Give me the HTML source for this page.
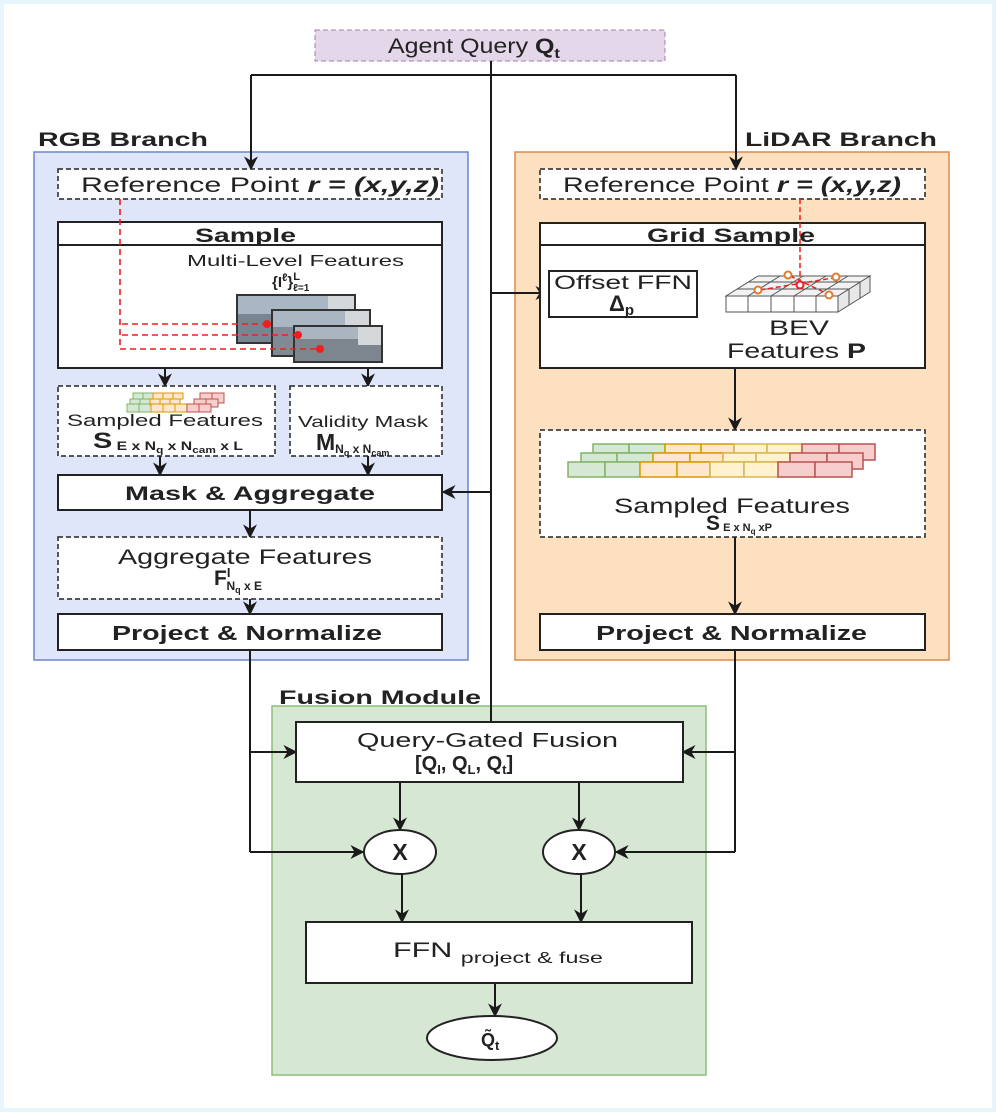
<!DOCTYPE html>
<html><head><meta charset="utf-8"><style>
html,body{margin:0;padding:0;background:#e8f4fb;}
svg{display:block;font-family:"Liberation Sans",Arial,sans-serif;}
</style></head><body>
<svg width="996" height="1112" viewBox="0 0 996 1112" xmlns="http://www.w3.org/2000/svg">
<defs>
<marker id="ar" viewBox="0 0 10 10" refX="9" refY="5" markerWidth="14" markerHeight="14" markerUnits="userSpaceOnUse" orient="auto"><path d="M0,0 L10,5 L0,10 L3,5 z" fill="#1a1a1a"/></marker>
</defs>
<rect x="4" y="4" width="988" height="1104" fill="#ffffff"/>
<rect x="34" y="152" width="434" height="508" fill="#dfe6f9" stroke="#6a85cc" stroke-width="1.5"/>
<rect x="515" y="152" width="434" height="508" fill="#fde0c0" stroke="#db8a4a" stroke-width="1.5"/>
<rect x="272" y="706" width="434" height="369" fill="#d6e8d4" stroke="#8cbf78" stroke-width="1.5"/>
<text x="38" y="146" font-size="19" font-weight="bold" fill="#222" textLength="170" lengthAdjust="spacingAndGlyphs">RGB Branch</text>
<text x="745" y="146" font-size="19" font-weight="bold" fill="#222" textLength="192" lengthAdjust="spacingAndGlyphs">LiDAR Branch</text>
<text x="279" y="704" font-size="19" font-weight="bold" fill="#222" textLength="202" lengthAdjust="spacingAndGlyphs">Fusion Module</text>

<rect x="315" y="30" width="350" height="31" fill="#e3d7e9" stroke="#a07fb0" stroke-dasharray="5,3"/>
<text x="388" y="53" font-size="21" fill="#222" textLength="172" lengthAdjust="spacingAndGlyphs">Agent Query <tspan font-weight="bold">Q</tspan><tspan font-weight="bold" font-size="14" dy="5">t</tspan></text>

<g stroke="#1a1a1a" stroke-width="2" fill="none">
<line x1="491" y1="61" x2="491" y2="722"/>
<polyline points="251,75 736,75"/>
<line x1="251" y1="75" x2="251" y2="169" marker-end="url(#ar)"/>
<line x1="736" y1="75" x2="736" y2="169" marker-end="url(#ar)"/>
<line x1="491" y1="293" x2="548" y2="293" marker-end="url(#ar)"/>
<line x1="491" y1="492" x2="443" y2="492" marker-end="url(#ar)"/>
<line x1="697" y1="293" x2="725" y2="293" marker-end="url(#ar)"/>
<line x1="165" y1="368" x2="165" y2="386" marker-end="url(#ar)"/>
<line x1="368" y1="368" x2="368" y2="386" marker-end="url(#ar)"/>
<line x1="160" y1="456" x2="160" y2="475" marker-end="url(#ar)"/>
<line x1="368" y1="456" x2="368" y2="475" marker-end="url(#ar)"/>
<line x1="250" y1="510" x2="250" y2="537" marker-end="url(#ar)"/>
<line x1="250" y1="599" x2="250" y2="614" marker-end="url(#ar)"/>
<line x1="735" y1="368" x2="735" y2="430" marker-end="url(#ar)"/>
<line x1="735" y1="537" x2="735" y2="614" marker-end="url(#ar)"/>
<polyline points="250,650 250,852"/>
<line x1="250" y1="752" x2="296" y2="752" marker-end="url(#ar)"/>
<line x1="250" y1="852" x2="363" y2="852" marker-end="url(#ar)"/>
<polyline points="735,650 735,852"/>
<line x1="735" y1="752" x2="683" y2="752" marker-end="url(#ar)"/>
<line x1="735" y1="852" x2="616" y2="852" marker-end="url(#ar)"/>
<line x1="400" y1="782" x2="400" y2="830" marker-end="url(#ar)"/>
<line x1="579" y1="782" x2="579" y2="830" marker-end="url(#ar)"/>
<line x1="402" y1="874" x2="402" y2="922" marker-end="url(#ar)"/>
<line x1="581" y1="874" x2="581" y2="922" marker-end="url(#ar)"/>
<line x1="495" y1="983" x2="495" y2="1016" marker-end="url(#ar)"/>
</g>

<!-- RGB -->
<rect x="58" y="169" width="384" height="30" fill="#fff" stroke="#222" stroke-width="1.5" stroke-dasharray="5,3"/>
<text x="81" y="192" font-size="21" fill="#222" textLength="358" lengthAdjust="spacingAndGlyphs">Reference Point <tspan font-weight="bold" font-style="italic">r = (x,y,z)</tspan></text>
<rect x="58" y="222" width="384" height="146" fill="#fff" stroke="#222" stroke-width="2"/>
<line x1="58" y1="245" x2="442" y2="245" stroke="#222" stroke-width="2"/>
<text x="195" y="242" font-size="19" font-weight="bold" fill="#222" textLength="101" lengthAdjust="spacingAndGlyphs">Sample</text>
<text x="187" y="266" font-size="16" fill="#222" textLength="217" lengthAdjust="spacingAndGlyphs">Multi-Level Features</text>
<text x="272" y="287" font-size="15" font-weight="bold" fill="#222">{I<tspan font-size="11" dy="-6">ℓ</tspan><tspan dy="6">}</tspan><tspan font-size="11" dy="-7">L</tspan><tspan font-size="10" dx="-7" dy="11">ℓ=1</tspan></text>
<g>
<rect x="237" y="295" width="118" height="48" fill="#7a8592" stroke="#333" stroke-width="2"/>
<rect x="238" y="296" width="116" height="18" fill="#a9b6c4"/>
<rect x="328" y="296" width="26" height="30" fill="#d5d8da"/>
<rect x="272" y="310" width="98" height="46" fill="#808a94" stroke="#333" stroke-width="2"/>
<rect x="273" y="311" width="96" height="16" fill="#aab7c3"/>
<rect x="345" y="311" width="24" height="25" fill="#d5d8da"/>
<rect x="294" y="326" width="88" height="36" fill="#7d868e" stroke="#333" stroke-width="2"/>
<rect x="295" y="327" width="86" height="12" fill="#aab5c0"/>
<rect x="358" y="327" width="23" height="18" fill="#d5d8da"/>
</g>
<g stroke="#f01e1e" stroke-width="1.6" stroke-dasharray="6,4" fill="none">
<polyline points="120,199 120,349 318,349"/>
<line x1="122" y1="324" x2="266" y2="324"/>
<line x1="122" y1="335" x2="297" y2="335"/>
</g>
<g fill="#f01e1e"><circle cx="267" cy="324" r="4"/><circle cx="298" cy="335" r="4"/><circle cx="320" cy="349" r="4"/></g>

<rect x="58" y="386" width="217" height="70" fill="#fff" stroke="#222" stroke-width="1.5" stroke-dasharray="5,3"/>
<g stroke-width="1">
<g fill="#d5e8d4" stroke="#82b366"><rect x="133" y="393" width="10" height="6"/><rect x="143" y="393" width="10" height="6"/><rect x="130" y="399" width="10" height="6"/><rect x="140" y="399" width="10" height="6"/><rect x="127" y="404" width="12" height="8"/><rect x="139" y="404" width="12" height="8"/></g>
<g fill="#ffe6cc" stroke="#d79b00"><rect x="153" y="393" width="10" height="6"/><rect x="163" y="393" width="10" height="6"/><rect x="173" y="393" width="10" height="6"/><rect x="150" y="399" width="10" height="6"/><rect x="160" y="399" width="10" height="6"/><rect x="170" y="399" width="10" height="6"/><rect x="151" y="404" width="12" height="8"/><rect x="163" y="404" width="12" height="8"/><rect x="175" y="404" width="12" height="8"/></g>
<g fill="#f8cecc" stroke="#b85450"><rect x="200" y="393" width="12" height="10"/><rect x="212" y="393" width="12" height="10"/><rect x="194" y="399" width="12" height="8"/><rect x="206" y="399" width="12" height="8"/><rect x="187" y="404" width="12" height="8"/><rect x="199" y="404" width="12" height="8"/></g>
</g>
<text x="67" y="426" font-size="17" fill="#222" textLength="196" lengthAdjust="spacingAndGlyphs">Sampled Features</text>
<text x="93" y="448" font-size="22" font-weight="bold" fill="#222" textLength="150" lengthAdjust="spacingAndGlyphs">S<tspan font-size="12" dy="2"> E x N</tspan><tspan font-size="9" dy="3">q</tspan><tspan font-size="12" dy="-3"> x N</tspan><tspan font-size="9" dy="3">cam</tspan><tspan font-size="12" dy="-3"> x L</tspan></text>
<rect x="290" y="386" width="152" height="70" fill="#fff" stroke="#222" stroke-width="1.5" stroke-dasharray="5,3"/>
<text x="298" y="427" font-size="16" fill="#222" textLength="130" lengthAdjust="spacingAndGlyphs">Validity Mask</text>
<text x="316" y="450" font-size="23" font-weight="bold" fill="#222">M<tspan font-size="12" dy="3">N</tspan><tspan font-size="9" dy="3">q</tspan><tspan font-size="12" dy="-3"> x N</tspan><tspan font-size="9" dy="3">cam</tspan></text>
<rect x="58" y="475" width="384" height="35" fill="#fff" stroke="#222" stroke-width="2"/>
<text x="125" y="500" font-size="19" font-weight="bold" fill="#222" textLength="250" lengthAdjust="spacingAndGlyphs">Mask &amp; Aggregate</text>
<rect x="58" y="537" width="384" height="62" fill="#fff" stroke="#222" stroke-width="1.5" stroke-dasharray="5,3"/>
<text x="118" y="564" font-size="21" fill="#222" textLength="254" lengthAdjust="spacingAndGlyphs">Aggregate Features</text>
<text x="214" y="585" font-size="21" font-weight="bold" fill="#222">F<tspan font-size="13" dy="-8">I</tspan><tspan font-size="12" dx="-4" dy="13">N</tspan><tspan font-size="9" dy="3">q</tspan><tspan font-size="12" dy="-3"> x E</tspan></text>
<rect x="58" y="614" width="384" height="36" fill="#fff" stroke="#222" stroke-width="2"/>
<text x="112" y="640" font-size="20" font-weight="bold" fill="#222" textLength="270" lengthAdjust="spacingAndGlyphs">Project &amp; Normalize</text>

<!-- LiDAR -->
<rect x="540" y="169" width="385" height="30" fill="#fff" stroke="#222" stroke-width="1.5" stroke-dasharray="5,3"/>
<text x="563" y="192" font-size="21" fill="#222" textLength="338" lengthAdjust="spacingAndGlyphs">Reference Point <tspan font-weight="bold" font-style="italic">r = (x,y,z)</tspan></text>
<rect x="540" y="223" width="385" height="145" fill="#fff" stroke="#222" stroke-width="2"/>
<line x1="540" y1="245" x2="925" y2="245" stroke="#222" stroke-width="2"/>
<text x="647" y="242" font-size="19" font-weight="bold" fill="#222" textLength="168" lengthAdjust="spacingAndGlyphs">Grid Sample</text>
<rect x="549" y="271" width="148" height="46" fill="#fff" stroke="#222" stroke-width="2"/>
<text x="554" y="289" font-size="19" fill="#222" textLength="138" lengthAdjust="spacingAndGlyphs">Offset FFN</text>
<text x="609" y="311" font-size="22" font-weight="bold" fill="#222">Δ<tspan font-size="15" dy="4">p</tspan></text>
<g stroke="#555" stroke-width="1" fill="#fff">
<polygon points="726,296 838,296 870,276 758,276" fill="#f2f2f2"/>
<polygon points="838,296 870,276 870,292 838,312" fill="#e8e8e8"/>
<rect x="726" y="296" width="112" height="16"/>
<line x1="748" y1="296" x2="748" y2="312"/><line x1="771" y1="296" x2="771" y2="312"/><line x1="794" y1="296" x2="794" y2="312"/><line x1="816" y1="296" x2="816" y2="312"/>
<line x1="748" y1="296" x2="780" y2="276"/><line x1="771" y1="296" x2="803" y2="276"/><line x1="794" y1="296" x2="826" y2="276"/><line x1="816" y1="296" x2="848" y2="276"/>
<line x1="737" y1="289" x2="849" y2="289"/><line x1="748" y1="282" x2="860" y2="282"/>
<line x1="849" y1="289" x2="849" y2="305"/><line x1="860" y1="282" x2="860" y2="298"/>
</g>
<g stroke="#f01e1e" stroke-width="1.5" stroke-dasharray="5,3" fill="none">
<line x1="800" y1="199" x2="800" y2="284"/>
<line x1="760" y1="290" x2="833" y2="278"/>
<line x1="790" y1="276" x2="828" y2="294"/>
</g>
<g fill="#fff" stroke="#e07a30" stroke-width="2"><circle cx="758" cy="290" r="3.5"/><circle cx="788" cy="275" r="3.5"/><circle cx="836" cy="277" r="3.5"/><circle cx="829" cy="295" r="3.5"/></g>
<circle cx="800" cy="285" r="3.5" fill="#fff" stroke="#f01e1e" stroke-width="2"/>
<text x="769" y="335" font-size="21" fill="#222" textLength="60" lengthAdjust="spacingAndGlyphs">BEV</text>
<text x="727" y="358" font-size="21" fill="#222" textLength="139" lengthAdjust="spacingAndGlyphs">Features <tspan font-weight="bold">P</tspan></text>

<rect x="540" y="430" width="385" height="107" fill="#fff" stroke="#222" stroke-width="1.5" stroke-dasharray="5,3"/>
<g stroke-width="1.5">
<g fill="#d5e8d4" stroke="#82b366"><rect x="593" y="444" width="36" height="9"/><rect x="629" y="444" width="36" height="9"/><rect x="581" y="453" width="36" height="9"/><rect x="617" y="453" width="36" height="9"/><rect x="568" y="462" width="37" height="15"/><rect x="605" y="462" width="35" height="15"/></g>
<g fill="#ffe6cc" stroke="#d79b00"><rect x="665" y="444" width="36" height="9"/><rect x="701" y="444" width="33" height="9"/><rect x="653" y="453" width="37" height="9"/><rect x="690" y="453" width="33" height="9"/><rect x="640" y="462" width="37" height="15"/><rect x="677" y="462" width="33" height="15"/></g>
<g fill="#fff2cc" stroke="#d6b656"><rect x="734" y="444" width="33" height="9"/><rect x="767" y="444" width="35" height="9"/><rect x="723" y="453" width="33" height="9"/><rect x="756" y="453" width="34" height="9"/><rect x="710" y="462" width="34" height="15"/><rect x="744" y="462" width="34" height="15"/></g>
<g fill="#f8cecc" stroke="#b85450"><rect x="802" y="444" width="37" height="16"/><rect x="839" y="444" width="36" height="16"/><rect x="790" y="453" width="37" height="16"/><rect x="827" y="453" width="36" height="16"/><rect x="778" y="462" width="37" height="15"/><rect x="815" y="462" width="37" height="15"/></g>
</g>
<text x="614" y="513" font-size="21" fill="#222" textLength="236" lengthAdjust="spacingAndGlyphs">Sampled Features</text>
<text x="706" y="530" font-size="21" font-weight="bold" fill="#222">S<tspan font-size="11" dy="1"> E x N</tspan><tspan font-size="8" dy="3">q</tspan><tspan font-size="11" dy="-3"> xP</tspan></text>
<rect x="540" y="614" width="385" height="36" fill="#fff" stroke="#222" stroke-width="2"/>
<text x="596" y="640" font-size="20" font-weight="bold" fill="#222" textLength="271" lengthAdjust="spacingAndGlyphs">Project &amp; Normalize</text>

<!-- Fusion -->
<rect x="296" y="722" width="387" height="60" fill="#fff" stroke="#222" stroke-width="2"/>
<text x="357" y="747" font-size="20" fill="#222" textLength="261" lengthAdjust="spacingAndGlyphs">Query-Gated Fusion</text>
<text x="415" y="770" font-size="20" font-weight="bold" fill="#222">[Q<tspan font-size="13" dy="4">I</tspan><tspan dy="-4">, Q</tspan><tspan font-size="13" dy="4">L</tspan><tspan dy="-4">, Q</tspan><tspan font-size="13" dy="4">t</tspan><tspan dy="-4">]</tspan></text>
<ellipse cx="400" cy="852" rx="36" ry="22" fill="#fff" stroke="#222" stroke-width="2"/>
<ellipse cx="579" cy="852" rx="36" ry="22" fill="#fff" stroke="#222" stroke-width="2"/>
<text x="400" y="860" font-size="23" font-weight="bold" text-anchor="middle" fill="#222">X</text>
<text x="579" y="860" font-size="23" font-weight="bold" text-anchor="middle" fill="#222">X</text>
<rect x="306" y="922" width="386" height="61" fill="#fff" stroke="#222" stroke-width="2"/>
<text x="393" y="957" font-size="21" fill="#222" textLength="210" lengthAdjust="spacingAndGlyphs">FFN <tspan font-size="16" dy="6">project &amp; fuse</tspan></text>
<ellipse cx="492" cy="1038" rx="65" ry="22" fill="#fff" stroke="#222" stroke-width="2"/>
<text x="481" y="1046" font-size="18" font-weight="bold" fill="#222">Q̃<tspan font-size="13" dy="4">t</tspan></text>
</svg>
</body></html>
